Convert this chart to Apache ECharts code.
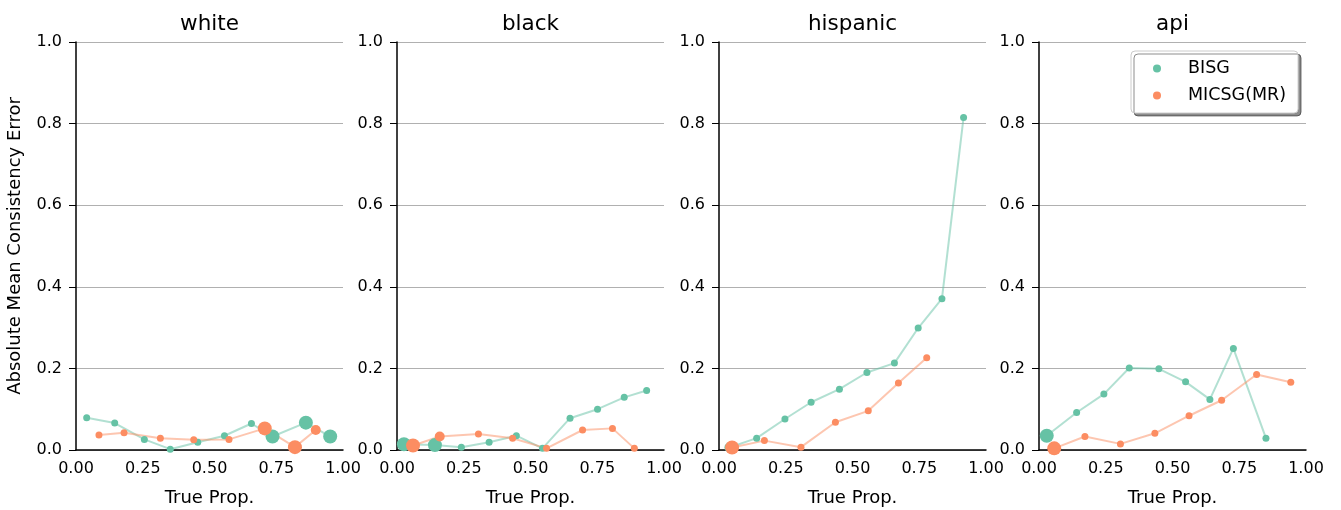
<!DOCTYPE html>
<html>
<head>
<meta charset="utf-8">
<script src="https://cdn.jsdelivr.net/npm/echarts@6/dist/echarts.min.js"></script>
<style>html,body{margin:0;padding:0;background:#fff}#c{width:1341px;height:510px}</style>
</head>
<body>
<div id="c"></div>
<script>
// ---- data ----
const panels = ['white', 'black', 'hispanic', 'api'];
const methods = ['BISG', 'MICSG(MR)'];
const xTicks = [0, 0.25, 0.5, 0.75, 1.0];
const yTicks = [0, 0.2, 0.4, 0.6, 0.8, 1.0];

// BISG
const bisgX_white = [0.040, 0.145, 0.256, 0.353, 0.456, 0.556, 0.657, 0.736, 0.861, 0.952];
const bisgY_white = [0.079, 0.066, 0.026, 0.002, 0.019, 0.035, 0.065, 0.033, 0.067, 0.033];
const bisgN_white = [1, 1, 1, 1, 1, 1, 1, 3, 3, 3];
const bisgX_black = [0.026, 0.142, 0.241, 0.345, 0.447, 0.545, 0.648, 0.751, 0.851, 0.935];
const bisgY_black = [0.014, 0.012, 0.007, 0.019, 0.035, 0.004, 0.078, 0.100, 0.129, 0.146];
const bisgN_black = [3, 3, 1, 1, 1, 1, 1, 1, 1, 1];
const bisgX_hispanic = [0.039, 0.141, 0.247, 0.345, 0.451, 0.554, 0.657, 0.746, 0.835, 0.916];
const bisgY_hispanic = [0.006, 0.029, 0.076, 0.117, 0.149, 0.190, 0.213, 0.299, 0.371, 0.815];
const bisgN_hispanic = [2, 1, 1, 1, 1, 1, 1, 1, 1, 1];
const bisgX_api = [0.029, 0.141, 0.243, 0.338, 0.449, 0.549, 0.640, 0.728, 0.850];
const bisgY_api = [0.035, 0.092, 0.137, 0.201, 0.199, 0.167, 0.124, 0.249, 0.029];
const bisgN_api = [3, 1, 1, 1, 1, 1, 1, 1, 1];

// MICSG(MR)
const micsgX_white = [0.086, 0.180, 0.316, 0.441, 0.573, 0.707, 0.820, 0.898];
const micsgY_white = [0.037, 0.042, 0.029, 0.025, 0.026, 0.053, 0.007, 0.049];
const micsgN_white = [1, 1, 1, 1, 1, 3, 3, 2];
const micsgX_black = [0.060, 0.160, 0.305, 0.433, 0.560, 0.695, 0.807, 0.889];
const micsgY_black = [0.011, 0.033, 0.039, 0.029, 0.004, 0.049, 0.053, 0.004];
const micsgN_black = [3, 2, 1, 1, 1, 1, 1, 1];
const micsgX_hispanic = [0.049, 0.170, 0.307, 0.436, 0.559, 0.672, 0.778];
const micsgY_hispanic = [0.006, 0.023, 0.007, 0.068, 0.096, 0.164, 0.226];
const micsgN_hispanic = [3, 1, 1, 1, 1, 1, 1];
const micsgX_api = [0.057, 0.172, 0.305, 0.434, 0.562, 0.684, 0.815, 0.943];
const micsgY_api = [0.004, 0.033, 0.015, 0.041, 0.084, 0.122, 0.185, 0.166];
const micsgN_api = [3, 1, 1, 1, 1, 1, 1, 1];

const bisg = {
  white: [bisgX_white, bisgY_white, bisgN_white],
  black: [bisgX_black, bisgY_black, bisgN_black],
  hispanic: [bisgX_hispanic, bisgY_hispanic, bisgN_hispanic],
  api: [bisgX_api, bisgY_api, bisgN_api]
};
const micsg = {
  white: [micsgX_white, micsgY_white, micsgN_white],
  black: [micsgX_black, micsgY_black, micsgN_black],
  hispanic: [micsgX_hispanic, micsgY_hispanic, micsgN_hispanic],
  api: [micsgX_api, micsgY_api, micsgN_api]
};

// ---- layout / style ----
const FONT = 'DejaVu Sans';
const colors = {'BISG': '#66c2a5', 'MICSG(MR)': '#fc8d62'};
const lefts = [76, 397, 719, 1039];
const W = 267, TOP = 42, H = 408;
const sizeMap = {1: 7, 2: 10, 3: 14};

const zip = (a) => a[0].map((x, i) => [x, a[1][i], a[2][i]]);

const grid = [], xAxis = [], yAxis = [], series = [], title = [];
panels.forEach((p, i) => {
  grid.push({left: lefts[i], top: TOP, width: W, height: H, containLabel: false, outerBoundsMode: 'none'});
  title.push({
    text: p, left: lefts[i] + W / 2 - 5, top: 8, textAlign: 'center',
    textStyle: {fontFamily: FONT, fontSize: 21.5, fontWeight: 'normal', color: '#000'}
  });
  xAxis.push({
    gridIndex: i, type: 'value', min: 0, max: 1, interval: 0.25,
    name: 'True Prop.', nameLocation: 'middle', nameGap: 39,
    nameTextStyle: {fontFamily: FONT, fontSize: 18, color: '#000'},
    axisLine: {show: true, lineStyle: {color: '#000', width: 1.5}},
    axisTick: {show: false},
    splitLine: {show: false},
    axisLabel: {fontFamily: FONT, fontSize: 16, color: '#000', margin: 11,
      formatter: v => v.toFixed(2)}
  });
  yAxis.push({
    gridIndex: i, type: 'value', min: 0, max: 1, interval: 0.2,
    name: i === 0 ? 'Absolute Mean Consistency Error' : '',
    nameLocation: 'middle', nameGap: 52,
    nameTextStyle: {fontFamily: FONT, fontSize: 18, color: '#000'},
    axisLine: {show: true, lineStyle: {color: '#000', width: 1.5}},
    axisTick: {show: true, length: 7, lineStyle: {color: '#000', width: 1}},
    splitLine: {show: true, lineStyle: {color: '#b0b0b0', width: 1}},
    axisLabel: {fontFamily: FONT, fontSize: 16, color: '#000', margin: 14,
      formatter: v => v.toFixed(1)}
  });
  [['BISG', bisg[p]], ['MICSG(MR)', micsg[p]]].forEach(([name, arr]) => {
    series.push({
      name: name, type: 'line', xAxisIndex: i, yAxisIndex: i,
      data: zip(arr),
      encode: {x: 0, y: 1},
      symbol: 'circle', showAllSymbol: true,
      symbolSize: v => sizeMap[v[2]],
      color: colors[name],
      itemStyle: {color: colors[name], opacity: 1},
      lineStyle: {color: colors[name], width: 2, opacity: 0.5},
      emphasis: {disabled: true},
      animation: false
    });
  });
});

const chart = echarts.init(document.getElementById('c'), null, {renderer: 'canvas'});
chart.setOption({
  backgroundColor: '#fff',
  animation: false,
  title: title,
  grid: grid,
  xAxis: xAxis,
  yAxis: yAxis,
  series: series,
  legend: {
    data: methods.map(m => ({name: m, icon: 'circle'})),
    orient: 'vertical',
    left: 1131, top: 51,
    itemWidth: 8, itemHeight: 8, itemGap: 8,
    padding: [8, 12, 8, 22],
    backgroundColor: '#fff',
    borderColor: '#cccccc', borderWidth: 1, borderRadius: 4,
    shadowColor: 'rgba(0,0,0,0.45)', shadowOffsetX: 3, shadowOffsetY: 3, shadowBlur: 0,
    formatter: n => '{g|}' + n,
    textStyle: {fontFamily: FONT, fontSize: 17.5, color: '#000', lineHeight: 19,
      rich: {g: {width: 22, fontSize: 17.5, lineHeight: 19}}},
    selectedMode: false
  }
});
</script>
</body>
</html>
